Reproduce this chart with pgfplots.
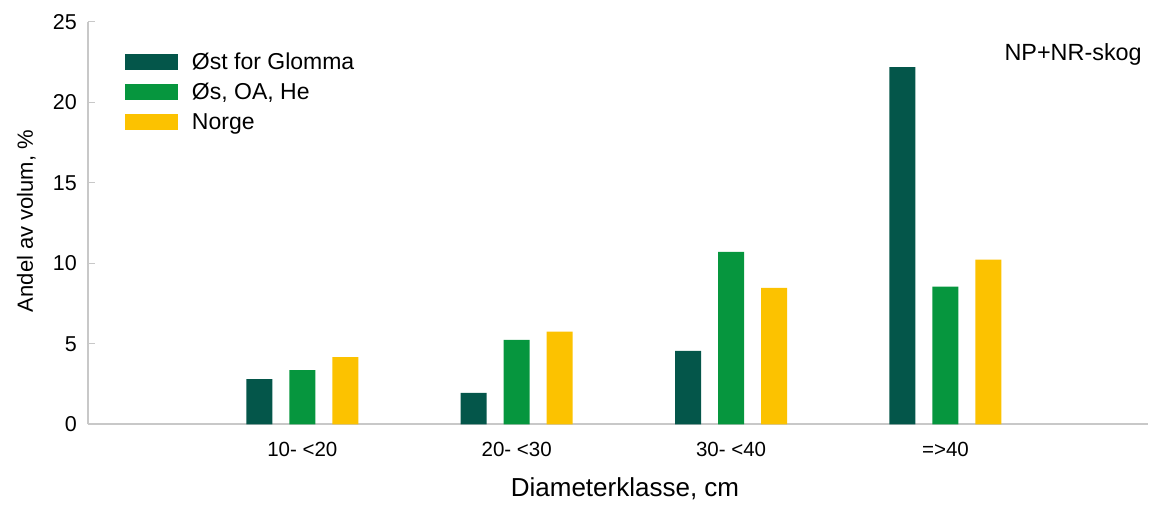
\documentclass[border=0pt]{standalone}
\usepackage{pgfplots}
\pgfplotsset{compat=1.18}
\usepackage{fontspec}
\setmainfont{Liberation Sans}
\definecolor{cDark}{RGB}{4,86,74}
\definecolor{cGreen}{RGB}{6,150,62}
\definecolor{cYellow}{RGB}{252,194,0}
\definecolor{cAxis}{RGB}{200,200,200}
\begin{document}
\begin{tikzpicture}
\path[use as bounding box] (0pt,0pt) rectangle (1149pt,506pt);
\begin{axis}[
  at={(88pt,81.7pt)}, anchor=south west,
  scale only axis,
  width=1060pt, height=402.3pt,
  xmin=-1, xmax=3.945,
  ymin=0, ymax=25,
  ybar=17pt, bar width=26pt,
  axis x line*=bottom, axis y line*=left,
  x axis line style={draw=cAxis, line width=2pt},
  y axis line style={draw=cAxis, line width=1.1pt},
  xtick=data,
  xticklabels={10- <20, 20- <30, 30- <40, =>40},
  xtick style={draw=none},
  ytick={0,5,10,15,20,25},
  ytick style={draw=cAxis, line width=1pt},
  tick align=inside,
  major tick length=7pt,
  /pgf/number format/assume math mode=true,
  tick label style={font=\fontsize{20.5}{24}\selectfont, text=black},
  xticklabel style={anchor=north, inner sep=0pt, yshift=-17.5pt},
  yticklabel style={anchor=east, inner sep=0pt, xshift=-11pt, font=\fontsize{21.5}{24}\selectfont},
  xlabel={Diameterklasse, cm},
  ylabel={Andel av volum, \%},
  every axis x label/.style={at={(axis description cs:0.5066,0)}, anchor=base, yshift=-72.7pt, font=\fontsize{26}{30}\selectfont},
  every axis y label/.style={at={(axis description cs:-0.0519,0.5053)}, rotate=90, anchor=base, font=\fontsize{22}{25}\selectfont},
  legend image code/.code={\fill[#1,draw=none] (0pt,-7.3pt) rectangle (53pt,9.3pt);},
  legend style={draw=none, fill=none, inner sep=0pt, outer sep=0pt,
    at={(axis description cs:0.0349,0.9254)}, anchor=north west,
    font=\fontsize{23}{27}\selectfont, row sep=8pt,
    nodes={inner sep=0pt, text height=17pt, text depth=5pt},
    /tikz/every odd column/.style={column sep=14pt}},
  legend cell align=left,
  clip=false,
]
\addplot[fill=cDark, draw=none] coordinates {(0,2.80) (1,1.96) (2,4.57) (3,22.2)};
\addplot[fill=cGreen, draw=none] coordinates {(0,3.37) (1,5.24) (2,10.71) (3,8.55)};
\addplot[fill=cYellow, draw=none] coordinates {(0,4.18) (1,5.76) (2,8.47) (3,10.23)};
\legend{Øst for Glomma, {Øs, OA, He}, Norge}
\node[anchor=base east, inner sep=0pt, font=\fontsize{23.4}{27}\selectfont] at (rel axis cs:0.9943,0.905) {NP+NR-skog};
\end{axis}
\end{tikzpicture}
\end{document}
